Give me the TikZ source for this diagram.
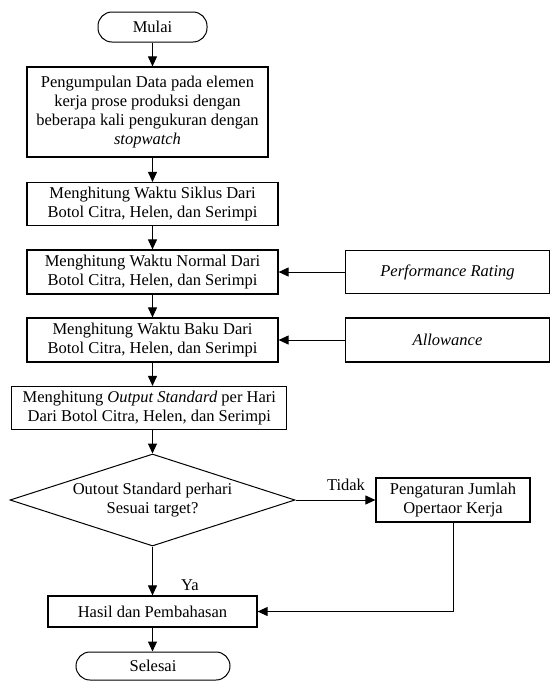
\documentclass[tikz,border=0pt]{standalone}
\usepackage{fontspec}
\setmainfont{Liberation Serif}
\usetikzlibrary{arrows.meta,shapes.geometric}
\begin{document}
\begin{tikzpicture}[x=1pt,y=1pt,
  every node/.style={font=\fontsize{16.5}{19}\selectfont, align=center, inner sep=0pt},
  proc/.style={draw, line width=1.2pt, rectangle},
  term/.style={draw, line width=1pt, rectangle, rounded corners=14pt},
  dec/.style={draw, line width=1pt, diamond, aspect=3.1},
  conn/.style={line width=1pt, -{Triangle[length=10pt,width=9pt]}},
  plain/.style={line width=1pt}]
\useasboundingbox (0,0) rectangle (551,-681);
\node[term, minimum width=109pt, minimum height=30pt] (start) at (152.5,-27) {Mulai};
\node[proc, minimum width=241pt, minimum height=90pt] (b1) at (147.5,-112) {Pengumpulan Data pada elemen\\kerja prose produksi dengan\\beberapa kali pengukuran dengan\\\textit{stopwatch}};
\node[proc, minimum width=251pt, minimum height=43pt] (b2) at (152.5,-204) {Menghitung Waktu Siklus Dari\\Botol Citra, Helen, dan Serimpi};
\node[proc, minimum width=251pt, minimum height=44pt] (b3) at (152.5,-272) {Menghitung Waktu Normal Dari\\Botol Citra, Helen, dan Serimpi};
\node[proc, minimum width=251pt, minimum height=44pt] (b4) at (152.5,-340) {Menghitung Waktu Baku Dari\\Botol Citra, Helen, dan Serimpi};
\node[proc, minimum width=275pt, minimum height=43pt] (b5) at (149.3,-408) {Menghitung \textit{Output Standard} per Hari\\Dari Botol Citra, Helen, dan Serimpi};
\node[dec, minimum width=285pt, minimum height=92pt] (d) at (152.5,-500) {Outout Standard perhari\\Sesuai target?};
\node[proc, minimum width=154pt, minimum height=44pt] (peng) at (453,-500) {Pengaturan Jumlah\\Opertaor Kerja};
\node[proc, minimum width=209pt, minimum height=31pt] (hasil) at (152.5,-611.5) {Hasil dan Pembahasan};
\node[term, minimum width=154pt, minimum height=28pt] (end) at (153,-666) {Selesai};
\node[proc, minimum width=204pt, minimum height=43pt] (pr) at (447.5,-272) {\textit{Performance Rating}};
\node[proc, minimum width=204pt, minimum height=44pt] (al) at (447.5,-340) {\textit{Allowance}};
\node (tidak) at (346,-485) {Tidak};
\node (ya) at (190,-585) {Ya};
\coordinate (cx) at (152.5,0);
\draw[conn] (cx |- start.south) -- (cx |- b1.north);
\draw[conn] (cx |- b1.south) -- (cx |- b2.north);
\draw[conn] (cx |- b2.south) -- (cx |- b3.north);
\draw[conn] (cx |- b3.south) -- (cx |- b4.north);
\draw[conn] (cx |- b4.south) -- (cx |- b5.north);
\draw[conn] (cx |- b5.south) -- (d.north);
\draw[conn] (pr.west) -- (b3.east);
\draw[conn] (al.west) -- (b4.east);
\draw[conn] (d.east) -- (peng.west);
\draw[conn] (d.south) -- (hasil.north);
\draw[conn] (peng.south) |- (hasil.east);
\draw[conn] (hasil.south) -- (cx |- end.north);
\end{tikzpicture}
\end{document}
